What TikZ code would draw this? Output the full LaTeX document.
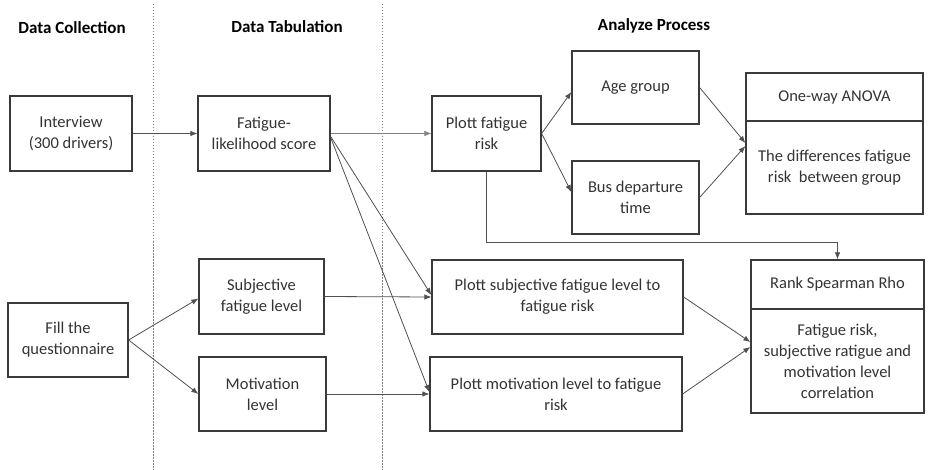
\documentclass[tikz,border=0pt]{standalone}
\usepackage{fontspec}
\setmainfont{Carlito}
\usetikzlibrary{arrows.meta,calc}
\definecolor{boxc}{HTML}{3A3A3A}
\definecolor{txtc}{HTML}{333333}
\definecolor{linec}{HTML}{505050}
\begin{document}
\begin{tikzpicture}[x=1pt,y=-1pt,
  box/.style={draw=boxc,line width=1.3pt,align=center,inner sep=2pt,text=txtc,
    font=\fontsize{16.5}{21}\selectfont},
  head/.style={font=\fontsize{17}{19}\selectfont\bfseries,text=black},
  arr/.style={draw=linec,line width=0.8pt,-{Latex[length=7pt,width=5.5pt]}},
  sep/.style={draw=gray,line width=0.6pt,dash pattern=on 1.5pt off 1.5pt}]
\useasboundingbox (0,0) rectangle (942,470);
% separators
\draw[sep] (153,4) -- (153,470);
\draw[sep] (382,4) -- (382,470);
% headings
\node[head] (h1) at (72,28) {Data Collection};
\node[head] (h2) at (287,27) {Data Tabulation};
\node[head] (h3) at (654,26) {Analyze Process};
% boxes
\node[box,minimum width=122pt,minimum height=75pt] (intv) at (71,133.5) {Interview\\(300 drivers)};
\node[box,minimum width=132pt,minimum height=75pt] (fls) at (264,133.5) {Fatigue-\\likelihood score};
\node[box,minimum width=109pt,minimum height=75pt] (pfr) at (486.5,133.5) {Plott fatigue\\risk};
\node[box,minimum width=127pt,minimum height=73pt] (age) at (635.5,87.5) {Age group};
\node[box,minimum width=127pt,minimum height=73pt] (bus) at (635.5,197.5) {Bus departure\\time};
\node[box,minimum width=177pt,minimum height=48pt] (anovat) at (834.5,97) {One-way ANOVA};
\node[box,minimum width=177pt,minimum height=93pt] (anovab) at (834.5,167.5) {The differences fatigue\\risk\ \ between group};
\node[box,minimum width=173pt,minimum height=49pt] (spt) at (837.5,284.5) {Rank Spearman Rho};
\node[box,minimum width=173pt,minimum height=104pt] (spb) at (837.5,361) {Fatigue risk,\\subjective ratigue and\\motivation level\\correlation};
\node[box,minimum width=251pt,minimum height=74pt] (psubj) at (557.5,297) {Plott subjective fatigue level to\\fatigue risk};
\node[box,minimum width=252pt,minimum height=74pt] (pmot) at (556,394) {Plott motivation level to fatigue\\risk};
\node[box,minimum width=125pt,minimum height=75pt] (subj) at (261.5,296.5) {Subjective\\fatigue level};
\node[box,minimum width=127pt,minimum height=74pt] (mot) at (262.5,394) {Motivation\\level};
\node[box,minimum width=120pt,minimum height=74pt] (fill) at (68,340) {Fill the\\questionnaire};
% connectors
\draw[arr] (intv.east) -- (fls.west);
\draw[arr,draw=gray] (fls.east) -- (pfr.west);
\draw[arr] ([yshift=-3pt]fls.east) -- ([yshift=2pt]psubj.west);
\draw[arr] ([yshift=-4pt]fls.east) -- ([yshift=2pt]pmot.west);
\draw[arr] (pfr.east) -- ([yshift=-4.5pt]age.west);
\draw[arr] (pfr.east) -- ([yshift=5.5pt]bus.west);
\draw[arr] (age.east) -- ([yshift=24.5pt]anovab.west);
\draw[arr] (bus.east) -- ([yshift=21.5pt]anovab.west);
\draw[arr] (pfr.south) -- ++(0,71) -| (spt.north);
\draw[arr] (fill.east) -- ([yshift=-2pt]subj.west);
\draw[arr] (fill.east) -- (mot.west);
\draw[arr] (subj.east) -- (psubj.west);
\draw[arr] (mot.east) -- (pmot.west);
\draw[arr] (psubj.east) -- ([yshift=19pt]spb.west);
\draw[arr] (pmot.east) -- ([yshift=14pt]spb.west);
\end{tikzpicture}
\end{document}
